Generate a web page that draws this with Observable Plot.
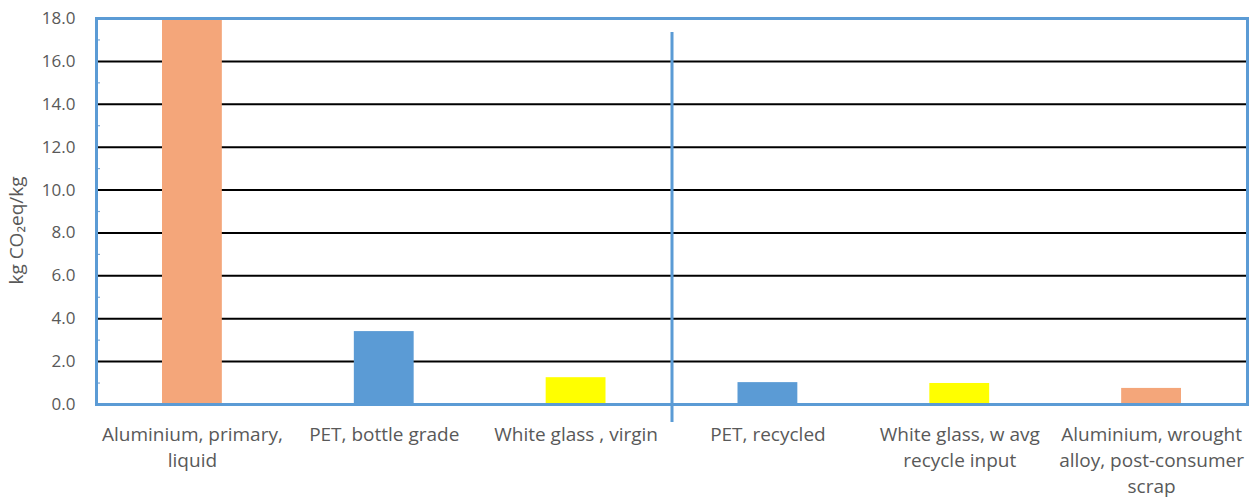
<!DOCTYPE html>
<html>
<head>
<meta charset="utf-8">
<script src="https://cdn.jsdelivr.net/npm/d3@7"></script>
<script src="https://cdn.jsdelivr.net/npm/@observablehq/plot@0.6"></script>
<style>
  html, body { margin: 0; padding: 0; background: #fff; }
</style>
</head>
<body>
<div id="chart"></div>
<script>
const categories = [
  "Aluminium, primary,\nliquid",
  "PET, bottle grade",
  "White glass , virgin",
  "PET, recycled",
  "White glass, w avg\nrecycle input",
  "Aluminium, wrought\nalloy, post-consumer\nscrap"
];
const values = [18.0, 3.4, 1.25, 1.02, 0.98, 0.75];
const colors = ["#F4A67A", "#5B9BD5", "#FFFF00", "#5B9BD5", "#FFFF00", "#F4A67A"];
const groups = ["virgin", "virgin", "virgin", "recycled", "recycled", "recycled"];
const yTicks = [0, 2, 4, 6, 8, 10, 12, 14, 16, 18];
const yMinorTicks = [1, 3, 5, 7, 9, 11, 13, 15, 17];
const yLabel = "kg CO₂eq/kg";

const data = categories.map((c, i) => ({i, category: c, value: values[i], color: colors[i], group: groups[i]}));
const divider = [groups.filter(g => g === "virgin").length - 0.5];

const blue = "#5B9BD5";
const gray = "#595959";
const font = "'Open Sans'";

const chart = Plot.plot({
  width: 1260,
  height: 500,
  marginLeft: 96,
  marginRight: 13,
  marginTop: 18,
  marginBottom: 96,
  style: {fontFamily: font, fontSize: "17px", color: gray, background: "#fff"},
  x: {type: "linear", domain: [-0.5, categories.length - 0.5], axis: null},
  y: {domain: [0, 18], axis: null},
  marks: [
    Plot.ruleY(yTicks.filter(t => t > 0 && t < 18), {stroke: "#000", strokeWidth: 2}),
    Plot.ruleY(yMinorTicks, {stroke: "#7FA9D6", strokeWidth: 1.2, insetLeft: 1, insetRight: 1147}),
    Plot.rectY(data, {
      x1: d => d.i - 0.5, x2: d => d.i + 0.5,
      y1: 0, y2: "value",
      insetLeft: 66, insetRight: 66,
      fill: "color", clip: true
    }),
    Plot.frame({stroke: blue, strokeWidth: 3}),
    Plot.ruleX(divider, {y1: 0, y2: 18, stroke: blue, strokeWidth: 3, insetTop: 18, insetBottom: -14}),
    Plot.axisY({ticks: yTicks, tickFormat: d => d.toFixed(1), tickSize: 0, tickPadding: 21, label: null, fill: gray, fontSize: 17}),
    Plot.text(data, {
      x: "i", text: "category", frameAnchor: "bottom", lineAnchor: "top",
      dy: 18, lineHeight: 1.37, fill: gray, fontSize: 19
    }),
    Plot.text([yLabel], {frameAnchor: "left", textAnchor: "middle", rotate: -90, dx: -80, dy: 19, fill: gray, fontSize: 19})
  ]
});

document.getElementById("chart").appendChild(chart);
</script>
</body>
</html>
